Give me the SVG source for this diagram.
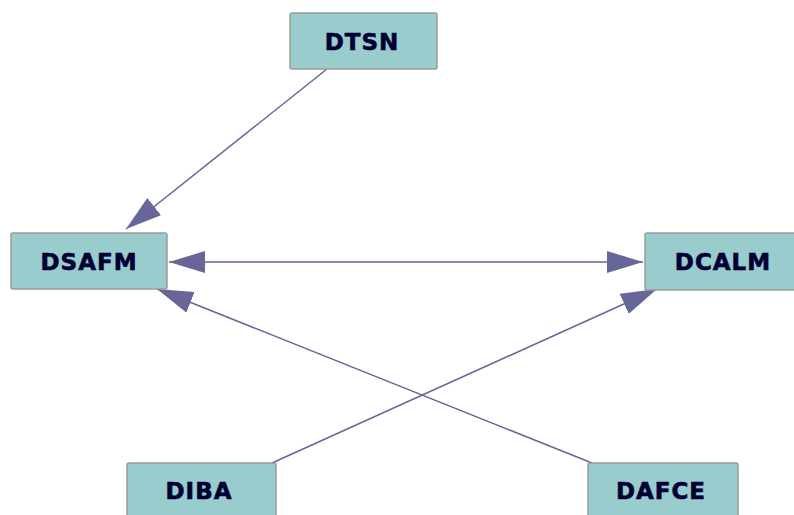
<svg xmlns="http://www.w3.org/2000/svg" width="794" height="515" viewBox="0 0 794 515">
  <style>
    .box { fill: #99CCCC; stroke: #9a9a9a; stroke-width: 1.5; }
    .lbl { font-family: "DejaVu Sans", "Liberation Sans", sans-serif; font-weight: bold; font-size: 23px; fill: #000033; stroke: #000033; stroke-width: 0.6; text-anchor: middle; letter-spacing: 1px; }
    .edge { stroke: #666699; stroke-width: 1.5; fill: none; }
  </style>
  <defs>
    <marker id="arrow" viewBox="0 0 36 22" markerWidth="36" markerHeight="22" refX="36" refY="11" orient="auto-start-reverse" markerUnits="userSpaceOnUse">
      <path d="M0,0 L36,11 L0,22 Z" fill="#666699"/>
    </marker>
  </defs>
  <rect width="794" height="515" fill="#ffffff"/>
  <g id="connectors">
    <line class="edge" x1="327" y1="69" x2="126" y2="229" marker-end="url(#arrow)"/>
    <line class="edge" x1="169" y1="262" x2="643" y2="262" marker-start="url(#arrow)" marker-end="url(#arrow)"/>
    <line class="edge" x1="272" y1="463" x2="657" y2="289" marker-end="url(#arrow)"/>
    <line class="edge" x1="592" y1="463" x2="157" y2="289" marker-end="url(#arrow)"/>
  </g>
  <g id="DTSN">
    <rect class="box" x="290" y="13" width="147" height="56" rx="2"/>
    <text class="lbl" x="362" y="50">DTSN</text>
  </g>
  <g id="DSAFM">
    <rect class="box" x="11" y="233" width="156" height="56" rx="2"/>
    <text class="lbl" x="89" y="270">DSAFM</text>
  </g>
  <g id="DCALM">
    <rect class="box" x="645" y="233" width="152" height="57" rx="2"/>
    <text class="lbl" x="723" y="270">DCALM</text>
  </g>
  <g id="DIBA">
    <rect class="box" x="127" y="463" width="149" height="60" rx="2"/>
    <text class="lbl" x="199" y="499">DIBA</text>
  </g>
  <g id="DAFCE">
    <rect class="box" x="588" y="463" width="150" height="60" rx="2"/>
    <text class="lbl" x="661" y="499">DAFCE</text>
  </g>
</svg>
